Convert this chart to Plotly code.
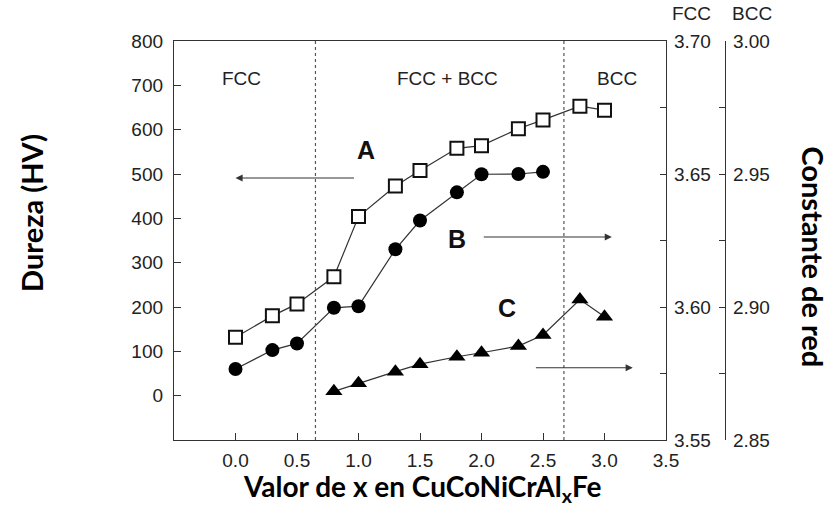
import plotly.graph_objects as go

# Composition x in CuCoNiCrAl_xFe
x_hardness = [0.0, 0.3, 0.5, 0.8, 1.0, 1.3, 1.5, 1.8, 2.0, 2.3, 2.5, 2.8, 3.0]
hardness_hv = [132, 180, 207, 268, 404, 473, 508, 558, 564, 602, 622, 653, 644]

x_fcc = [0.0, 0.3, 0.5, 0.8, 1.0, 1.3, 1.5, 1.8, 2.0, 2.3, 2.5]
lattice_fcc = [3.5767, 3.5838, 3.5863, 3.5997, 3.6003, 3.6217, 3.6325, 3.6431,
               3.6499, 3.6500, 3.6508]

x_bcc = [0.8, 1.0, 1.3, 1.5, 1.8, 2.0, 2.3, 2.5, 2.8, 3.0]
lattice_bcc = [2.8683, 2.8713, 2.8757, 2.8785, 2.8813, 2.8828, 2.8853, 2.8895,
               2.9028, 2.8963]

x_ticks = [0.0, 0.5, 1.0, 1.5, 2.0, 2.5, 3.0, 3.5]
hv_ticks = [0, 100, 200, 300, 400, 500, 600, 700, 800]
fcc_ticks = [3.55, 3.60, 3.65, 3.70]
fcc_minor = [3.575, 3.625, 3.675]
bcc_ticks = [2.85, 2.90, 2.95, 3.00]
bcc_minor = [2.875, 2.925, 2.975]

phase_bounds = [0.65, 2.67]
phase_labels = [("FCC", 0.05), ("FCC + BCC", 1.72), ("BCC", 3.1)]

TICK_FONT = dict(family="Liberation Sans, Arial, sans-serif", size=19, color="#222")
TITLE_FONT = dict(family="Lato, sans-serif", size=29, color="#000")
LINE_COL = "#333"

fig = go.Figure()

fig.add_trace(go.Scatter(
    x=x_hardness, y=hardness_hv, mode="lines+markers", name="A",
    line=dict(color=LINE_COL, width=1.2),
    marker=dict(symbol="square", size=13, color="white",
                line=dict(color="#111", width=2)),
    yaxis="y", cliponaxis=False,
))
fig.add_trace(go.Scatter(
    x=x_fcc, y=lattice_fcc, mode="lines+markers", name="B",
    line=dict(color=LINE_COL, width=1.2),
    marker=dict(symbol="circle", size=14, color="#000"),
    yaxis="y2", cliponaxis=False,
))
fig.add_trace(go.Scatter(
    x=x_bcc, y=lattice_bcc, mode="lines+markers", name="C",
    line=dict(color=LINE_COL, width=1.2),
    marker=dict(symbol="triangle-up", size=15, color="#000"),
    yaxis="y3", cliponaxis=False,
))

# Phase region boundaries
for xb in phase_bounds:
    fig.add_shape(type="line", x0=xb, x1=xb, y0=0, y1=1, xref="x", yref="y domain",
                  line=dict(color="#555", width=1.2, dash="dot"))

annotations = []
for label, xp in phase_labels:
    annotations.append(dict(x=xp, y=716, xref="x", yref="y", text=label,
                            showarrow=False, font=TICK_FONT))

# Curve labels
for label, xp, yp in [("A", 1.06, 554), ("B", 1.80, 353), ("C", 2.21, 198)]:
    annotations.append(dict(x=xp, y=yp, xref="x", yref="y", text=f"<b>{label}</b>",
                            showarrow=False,
                            font=dict(family="Liberation Sans, Arial, sans-serif",
                                      size=25, color="#111")))

# Arrows pointing to the axis each curve belongs to
for tail_x, head_x, yv in [(0.976, 0.0, 491), (2.006, 3.06, 358), (2.43, 3.23, 63)]:
    annotations.append(dict(x=head_x, y=yv, ax=tail_x, ay=yv, xref="x", yref="y",
                            axref="x", ayref="y", text="", showarrow=True,
                            arrowhead=2, arrowsize=1.3, arrowwidth=1.1,
                            arrowcolor="#333"))

# Axis titles and right-axis headers
annotations += [
    dict(x=0.414, y=-0.121, xref="paper", yref="paper",
         text="<b>Valor de x en CuCoNiCrAl<sub>x</sub>Fe</b>", showarrow=False,
         font=dict(family="Lato, sans-serif", size=28, color="#000"),
         xanchor="center", yanchor="middle"),
    dict(x=-0.2367, y=0.569, xref="paper", yref="paper", text="<b>Dureza (HV)</b>",
         textangle=-90, showarrow=False, font=TITLE_FONT,
         xanchor="center", yanchor="middle"),
    dict(x=1.0667, y=0.46, xref="paper", yref="paper", text="<b>Constante de red</b>",
         textangle=90, showarrow=False, font=TITLE_FONT,
         xanchor="center", yanchor="middle"),
    dict(x=0.863, y=1.068, xref="paper", yref="paper", text="FCC", showarrow=False,
         font=TICK_FONT, xanchor="center", yanchor="middle"),
    dict(x=0.963, y=1.068, xref="paper", yref="paper", text="BCC", showarrow=False,
         font=TICK_FONT, xanchor="center", yanchor="middle"),
]

fig.update_layout(
    width=832, height=506,
    margin=dict(l=174, r=58, t=41, b=66),
    paper_bgcolor="white", plot_bgcolor="white",
    showlegend=False,
    annotations=annotations,
    xaxis=dict(
        domain=[0, 0.82], range=[-0.5, 3.5], tickvals=x_ticks,
        ticktext=[f"{v:.1f}" for v in x_ticks],
        ticks="inside", ticklen=7, tickcolor=LINE_COL, tickwidth=1.2,
        showline=True, linecolor=LINE_COL, linewidth=1.3, mirror=True,
        showgrid=False, zeroline=False, tickfont=TICK_FONT, ticklabelstandoff=3,
    ),
    yaxis=dict(
        range=[-100, 800], tickvals=hv_ticks,
        ticks="inside", ticklen=7, tickcolor=LINE_COL, tickwidth=1.2,
        showline=True, linecolor=LINE_COL, linewidth=1.3, mirror=True,
        showgrid=False, zeroline=False, tickfont=TICK_FONT, ticklabelstandoff=6,
    ),
    yaxis2=dict(
        overlaying="y", side="right", anchor="x",
        range=[3.55, 3.70], tickvals=fcc_ticks,
        ticktext=[f"{v:.2f}" for v in fcc_ticks],
        ticks="inside", ticklen=6, tickcolor=LINE_COL, tickwidth=1.2,
        minor=dict(tickvals=fcc_minor, ticks="inside", ticklen=6,
                   tickcolor=LINE_COL, tickwidth=1.2),
        showline=True, linecolor=LINE_COL, linewidth=1.3,
        showgrid=False, zeroline=False, tickfont=TICK_FONT, ticklabelstandoff=3,
    ),
    yaxis3=dict(
        overlaying="y", side="right", anchor="free", position=0.9183,
        range=[2.85, 3.00], tickvals=bcc_ticks,
        ticktext=[f"{v:.2f}" for v in bcc_ticks],
        ticks="inside", ticklen=6, tickcolor=LINE_COL, tickwidth=1.2,
        minor=dict(tickvals=bcc_minor, ticks="inside", ticklen=6,
                   tickcolor=LINE_COL, tickwidth=1.2),
        showline=True, linecolor=LINE_COL, linewidth=1.3,
        showgrid=False, zeroline=False, tickfont=TICK_FONT, ticklabelstandoff=3,
    ),
)

fig.write_html("out.html")
